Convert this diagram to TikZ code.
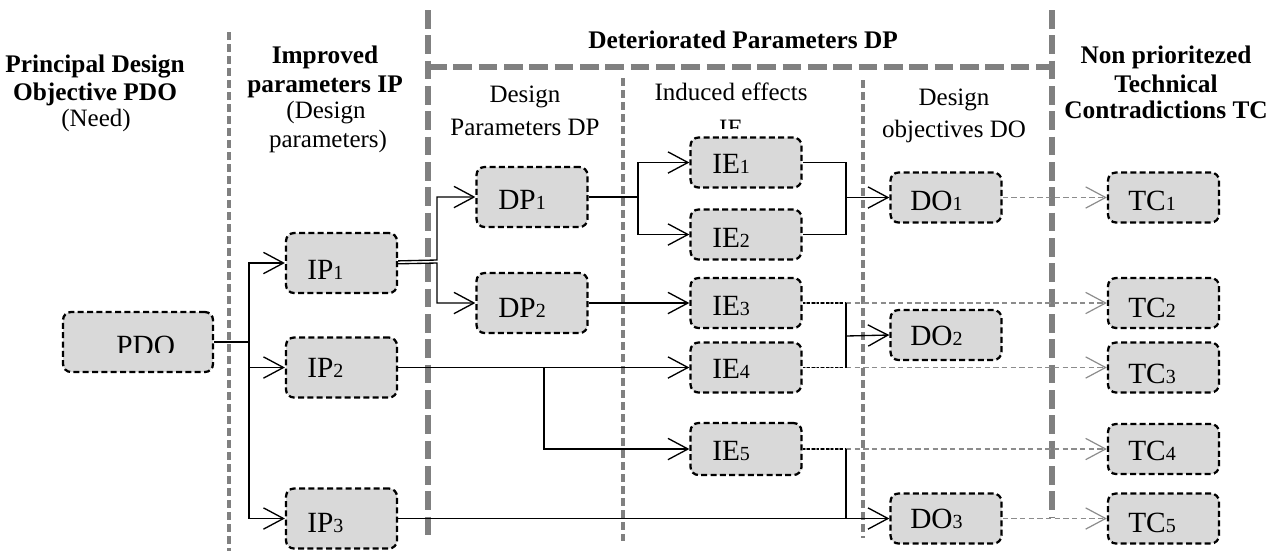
\documentclass[tikz,border=0pt]{standalone}
\usepackage{fontspec}
\setmainfont{Liberation Serif}
\usetikzlibrary{arrows.meta}
\newcommand{\sd}[1]{{\fontsize{15pt}{17pt}\selectfont #1}}
\definecolor{boxfill}{RGB}{217,217,217}
\definecolor{colgray}{RGB}{128,128,128}
\definecolor{arrgray}{RGB}{140,140,140}
\begin{document}
\begin{tikzpicture}[x=0.75pt,y=-0.75pt,
  box/.style={draw=black, fill=boxfill, line width=1.7pt, dash pattern=on 4.5pt off 2.5pt, rounded corners=6pt, minimum width=83.25pt, minimum height=37.5pt, inner sep=0pt},
  tallbox/.style={box, minimum height=45pt},
  lbl/.style={anchor=base west, inner sep=0pt, font=\fontsize{22pt}{26pt}\selectfont},
  hb/.style={anchor=base, inner sep=0pt, font=\fontsize{19pt}{22pt}\selectfont\bfseries},
  hr/.style={anchor=base, inner sep=0pt, font=\fontsize{18.75pt}{22pt}\selectfont},
  thincol/.style={colgray, line width=2.3pt, dash pattern=on 6pt off 3pt},
  thickcol/.style={colgray, line width=4.5pt, dash pattern=on 14pt off 5pt},
  link/.style={black, line width=1pt},
  arr/.style={link, -{Straight Barb[length=15pt,width=16pt]}},
  garr/.style={arrgray, line width=0.9pt, dash pattern=on 4pt off 2.5pt, -{Straight Barb[length=15pt,width=16pt]}},
  bdot/.style={black, line width=0.9pt, dash pattern=on 2pt off 1.5pt}
]
\useasboundingbox (0,0) rectangle (1284,551);

% column separators
\draw[thincol] (229,32) -- (229,551);
\draw[thickcol] (428,10) -- (428,542);
\draw[thickcol] (428,67) -- (1052,67);
\draw[thickcol] (1052,10) -- (1052,517);
\draw[thincol] (623,78) -- (623,541);
\draw[thincol] (863,80) -- (863,538);

% headers
\node[hb] (h1a) at (95,72) {Principal Design};
\node[hb] (h1b) at (95,100) {Objective PDO};
\node[hr] (h1c) at (96,126) {(Need)};
\node[hb] (h2a) at (325,63) {Improved};
\node[hb] (h2b) at (325,92) {parameters IP};
\node[hr] (h2c) at (326,118) {(Design};
\node[hr] (h2d) at (328,147) {parameters)};
\node[hb] (h3) at (743,48) {Deteriorated Parameters DP};
\node[hr] (h4a) at (525,102) {Design};
\node[hr] (h4b) at (525,135) {Parameters DP};
\node[hr] (h5a) at (731,100) {Induced effects};
\begin{scope}
\clip (600,100) rectangle (860,128);
\node[hr] (h5b) at (731,136) {IE};
\end{scope}
\node[hr] (h6a) at (954,105) {Design};
\node[hr] (h6b) at (954,137) {objectives DO};
\node[hb] (h7a) at (1166,63) {Non prioritezed};
\node[hb] (h7b) at (1166,92) {Technical};
\node[hb] (h7c) at (1166,118) {Contradictions TC};

% boxes
\node[tallbox, minimum width=112.5pt] (pdo) at (138,342) {};
\node[tallbox] (ip1) at (341.5,263) {};
\node[tallbox] (ip2) at (341.5,367.5) {};
\node[tallbox] (ip3) at (341.5,518.5) {};
\node[tallbox] (dp1) at (532,197) {};
\node[tallbox] (dp2) at (532,303) {};
\node[box] (ie1) at (746,162.5) {};
\node[box] (ie2) at (746,234.5) {};
\node[box] (ie3) at (746,303) {};
\node[box] (ie4) at (746,367.5) {};
\node[box, minimum height=39pt] (ie5) at (746,449) {};
\node[box] (do1) at (946,197.5) {};
\node[box] (do2) at (946,335) {};
\node[box] (do3) at (946,518.5) {};
\node[box] (tc1) at (1163.5,197.5) {};
\node[box] (tc2) at (1163.5,303) {};
\node[box] (tc3) at (1163.5,367.5) {};
\node[box] (tc4) at (1163.5,449) {};
\node[box] (tc5) at (1163.5,518.5) {};

% box labels
\begin{scope}
\clip (60,300) rectangle (220,352);
\node[lbl] (pdot) at (116,355) {PDO};
\end{scope}
\node[lbl] (ip1t) at (307,279) {IP\sd{1}};
\node[lbl] (ip2t) at (307,377) {IP\sd{2}};
\node[lbl] (ip3t) at (307,532) {IP\sd{3}};
\node[lbl] (dp1t) at (498,209) {DP\sd{1}};
\node[lbl] (dp2t) at (498,317) {DP\sd{2}};
\node[lbl] (ie1t) at (712,173) {IE\sd{1}};
\node[lbl] (ie2t) at (712,247) {IE\sd{2}};
\node[lbl] (ie3t) at (712,315) {IE\sd{3}};
\node[lbl] (ie4t) at (712,378) {IE\sd{4}};
\node[lbl] (ie5t) at (712,460) {IE\sd{5}};
\node[lbl] (do1t) at (910,210) {DO\sd{1}};
\node[lbl] (do2t) at (910,345) {DO\sd{2}};
\node[lbl] (do3t) at (910,528) {DO\sd{3}};
\node[lbl] (tc1t) at (1128,210) {TC\sd{1}};
\node[lbl] (tc2t) at (1128,317) {TC\sd{2}};
\node[lbl] (tc3t) at (1128,383) {TC\sd{3}};
\node[lbl] (tc4t) at (1128,460) {TC\sd{4}};
\node[lbl] (tc5t) at (1128,532) {TC\sd{5}};

% junction points
\coordinate (j0) at (249,342);
\coordinate (ja) at (437,260);
\coordinate (jb) at (437,263);
\coordinate (j2) at (638,197);
\coordinate (j3) at (846,197.5);
\coordinate (j4) at (846,336);
\coordinate (j5) at (544,367.5);
\coordinate (j6) at (846,518.5);

% PDO -> IP
\draw[link] (pdo.east) -- (j0);
\draw[arr] (j0) |- (ip1.west);
\draw[arr] (j0) |- (ip2.west);
\draw[arr] (j0) |- (ip3.west);

% IP1 -> DP1, DP2
\draw[arr] ([yshift=1.6pt]ip1.east) -- (ja) |- (dp1.west);
\draw[arr] ([yshift=-0.6pt]ip1.east) -- (jb) |- (dp2.west);

% DP1 -> IE1, IE2
\draw[link] (dp1.east) -- (j2);
\draw[arr] (j2) |- (ie1.west);
\draw[arr] (j2) |- (ie2.west);

% IE1, IE2 -> DO1
\draw[link] (ie1.east) -| (j3);
\draw[link] (ie2.east) -| (j3);
\draw[arr] (j3) -- (do1.west);

% DP2 -> IE3
\draw[arr] (dp2.east) -- (ie3.west);

% IP2 -> IE4, IE5
\draw[arr] (ip2.east) -- (ie4.west);
\draw[arr] (j5) |- (ie5.west);

% IP3 -> DO3
\draw[arr] (ip3.east) -- (do3.west);

% gray dashed to TC
\draw[garr] (do1.east) -- (tc1.west);
\draw[garr] (ie3.east) -- (tc2.west);
\draw[garr] (ie4.east) -- (tc3.west);
\draw[garr] (ie5.east) -- (tc4.west);
\draw[garr] (do3.east) -- (tc5.west);

% IE3, IE4 -> DO2 ; IE5 -> DO3
\draw[bdot] (ie3.east) -- (ie3.east -| j4);
\draw[bdot] (ie4.east) -- (ie4.east -| j4);
\draw[link] (ie3.east -| j4) -- (ie4.east -| j4);
\draw[arr] (j4) -- (do2.west);
\draw[bdot] (ie5.east) -- (ie5.east -| j6);
\draw[link] (ie5.east -| j6) -- (j6);
\end{tikzpicture}
\end{document}
